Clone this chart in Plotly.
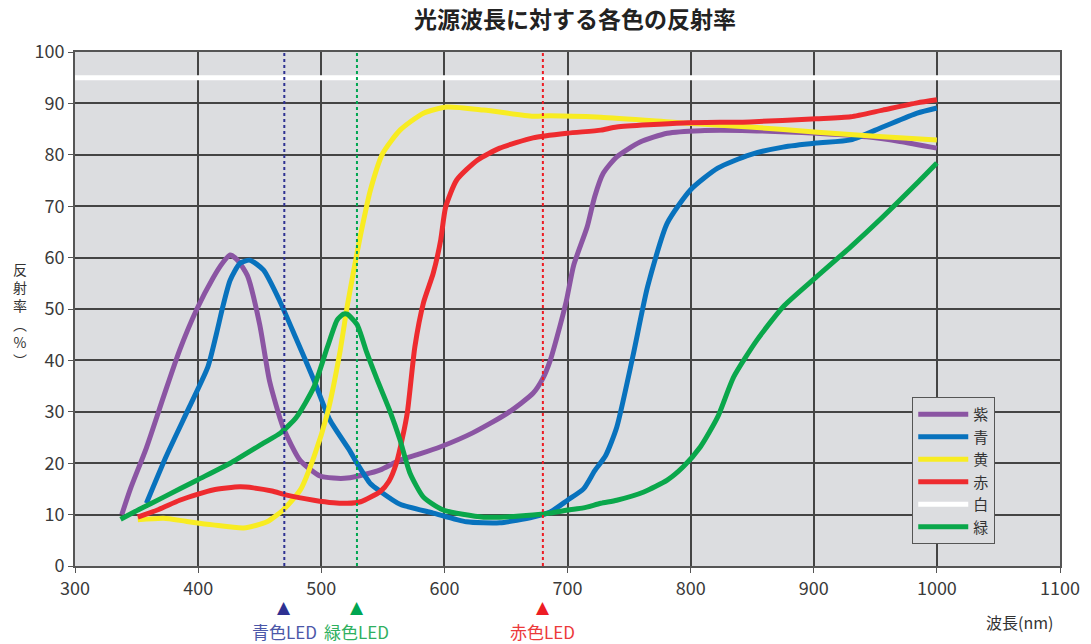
import plotly.graph_objects as go

# ---- data ----
purple_nm = [338, 345, 358, 372, 385, 399, 412, 420, 426, 432, 440, 450, 458, 469, 483, 499, 510, 521, 535, 548, 564, 580, 597, 623, 651, 672, 680, 686, 692, 699, 705, 716, 722, 729, 740, 759, 781, 808, 848, 902, 943, 970, 1000]
purple_val = [10, 15, 23, 33, 42, 50, 56, 59, 60.5, 59.5, 56.5, 47, 36, 27, 20.5, 17.5, 17.1, 17.1, 17.8, 18.7, 20.6, 21.8, 23.2, 25.9, 29.7, 33.6, 36.5, 40, 45, 51.5, 58.5, 66, 71.8, 76.4, 79.6, 82.5, 84.2, 84.7, 84.7, 84.2, 83.5, 82.6, 81.3]

blue_nm = [358, 374, 393, 408, 415, 420, 426, 434, 442, 453, 466, 480, 494, 507, 523, 529, 540, 548, 564, 591, 618, 645, 672, 686, 700, 713, 722, 731, 740, 753, 765, 781, 800, 822, 848, 875, 902, 930, 956, 984, 1000]
blue_val = [12.2, 21.3, 31, 38.8, 45.3, 50.4, 55.6, 58.9, 59.5, 57.6, 51.7, 44, 36.2, 28.4, 22.5, 20, 16, 14.5, 12, 10.3, 8.6, 8.4, 9.5, 10.5, 12.8, 15, 18.5, 21.5, 27, 40.7, 54.3, 66.7, 73.2, 77.4, 80, 81.5, 82.3, 82.9, 85.4, 88.1, 89.1]

yellow_nm = [351, 372, 390, 412, 437, 456, 469, 483, 494, 505, 515, 521, 526, 532, 540, 550, 564, 583, 602, 632, 672, 686, 727, 794, 848, 903, 956, 1000]
yellow_val = [9, 9.3, 8.7, 8, 7.4, 8.6, 10.9, 14.8, 21.2, 29.7, 41.4, 50.4, 57, 64.5, 73.2, 80.3, 84.8, 88.1, 89.3, 88.7, 87.5, 87.6, 87.3, 86.2, 85.4, 84.4, 83.5, 82.9]

red_nm = [351, 368, 385, 400, 412, 434, 445, 460, 472, 494, 510, 521, 532, 548, 555, 561, 566, 570, 576, 583, 591, 597, 601, 610, 627, 645, 672, 700, 727, 740, 794, 848, 902, 930, 956, 984, 1000]
red_val = [9.5, 11, 12.8, 14, 14.8, 15.4, 15.2, 14.6, 13.8, 12.8, 12.3, 12.2, 12.5, 14.5, 16.5, 20, 25, 30, 42.6, 51.2, 57, 63.4, 69.8, 75.1, 79, 81.3, 83.3, 84.2, 84.8, 85.4, 86.2, 86.4, 87, 87.4, 88.7, 90.1, 90.7]

white_nm = [300, 1100]
white_val = [95, 95]

green_nm = [337, 352, 372, 399, 426, 453, 467, 480, 494, 505, 513, 518, 521, 529, 537, 545, 556, 564, 572, 583, 599, 632, 672, 686, 700, 713, 727, 740, 762, 781, 794, 808, 822, 835, 854, 875, 902, 930, 956, 984, 1000]
green_val = [9.1, 11, 13.4, 16.7, 20, 23.9, 25.9, 29, 34.8, 42.6, 47.9, 49, 49, 47, 41.5, 36.5, 30, 24.5, 18.1, 13.4, 10.9, 9.5, 9.9, 10.3, 10.9, 11.3, 12.2, 12.8, 14.4, 16.7, 19.3, 23.2, 29, 36.8, 44, 50.4, 56.2, 62.1, 67.9, 74.5, 78.4]

led_nm = [470, 529, 680]
led_labels = ["青色LED", "緑色LED", "赤色LED"]
led_colors = ["#2e3192", "#00a651", "#ed1c24"]
led_text_colors = ["#4b57a8", "#2fb060", "#ec3a3a"]

x_ticks = [300, 400, 500, 600, 700, 800, 900, 1000, 1100]
y_ticks = [0, 10, 20, 30, 40, 50, 60, 70, 80, 90, 100]

y_title_chars = ["反", "射", "率", "︵", "%", "︶"]

series = [
    ("紫", purple_nm, purple_val, "#8b55a3"),
    ("青", blue_nm, blue_val, "#0872bd"),
    ("黄", yellow_nm, yellow_val, "#f8ec22"),
    ("赤", red_nm, red_val, "#ee2b2f"),
    ("白", white_nm, white_val, "#ffffff"),
    ("緑", green_nm, green_val, "#0aa74b"),
]

FONT = "Noto Sans CJK JP"
fig = go.Figure()

# LED dotted lines
for nm, c in zip(led_nm, led_colors):
    fig.add_shape(type="line", xref="x", yref="y", x0=nm, x1=nm, y0=0, y1=100,
                  line=dict(color=c, width=2, dash="dot"), layer="above")

for name, xs, ys, col in series:
    fig.add_trace(go.Scatter(x=xs, y=ys, name=name, mode="lines",
                             line=dict(color=col, width=5, shape="spline", smoothing=0.6)))

# LED triangles and labels
for nm, lab, c, tc in zip(led_nm, led_labels, led_colors, led_text_colors):
    fig.add_annotation(x=nm, xref="x", y=-0.08, yref="paper", text="▲", showarrow=False,
                       font=dict(family="DejaVu Sans", size=17, color=c), xanchor="center", yanchor="middle")
    fig.add_annotation(x=nm, xref="x", y=-0.1265, yref="paper", text=lab, showarrow=False,
                       font=dict(family=FONT, size=17, color=tc), xanchor="center", yanchor="middle")

# axis titles
fig.add_annotation(x=0.959, xref="paper", y=-0.109, yref="paper", text="波長(nm)", showarrow=False,
                   font=dict(family=FONT, size=16, color="#333"), xanchor="center", yanchor="middle")
fig.add_annotation(x=-0.0558, xref="paper", y=(566 - 314) / 514, yref="paper",
                   text="<br>".join(y_title_chars), showarrow=False,
                   font=dict(family=FONT, size=14, color="#333"), xanchor="center", yanchor="middle")

fig.update_layout(
    template="none",
    width=1091, height=644,
    margin=dict(l=75, r=31, t=52, b=78),
    paper_bgcolor="white",
    plot_bgcolor="#dcdde0",
    title=dict(text="<b>光源波長に対する各色の反射率</b>", x=0.527, xref="container", y=0.969,
               yref="container", yanchor="middle", xanchor="center",
               font=dict(family=FONT, size=23, color="#222")),
    font=dict(family=FONT, color="#3a3a3a"),
    legend=dict(x=0.85, y=0.329, xanchor="left", yanchor="top", bgcolor="#dcdde0",
                bordercolor="#555", borderwidth=1, font=dict(family=FONT, size=15, color="#333"),
                itemwidth=50, tracegroupgap=0),
    showlegend=True,
    hovermode=False,
)
fig.update_xaxes(range=[300, 1100], tickvals=x_ticks, ticktext=[str(v) for v in x_ticks],
                 showgrid=True, gridcolor="#444", gridwidth=1.5, zeroline=False, automargin=False,
                 showline=True, linecolor="#555", linewidth=2, mirror=True,
                 ticks="outside", ticklen=5, tickcolor="#555",
                 tickfont=dict(family=FONT, size=18, color="#3a3a3a"))
fig.update_yaxes(range=[0, 100], tickvals=y_ticks, ticktext=[str(v) for v in y_ticks],
                 showgrid=True, gridcolor="#444", gridwidth=1.5, zeroline=False, automargin=False,
                 showline=True, linecolor="#555", linewidth=2, mirror=True,
                 ticks="outside", ticklen=5, tickcolor="#555",
                 tickfont=dict(family=FONT, size=18, color="#3a3a3a"))

fig.write_html("out.html", config={"displayModeBar": False},
               post_script="document.body.style.margin='0px';document.body.style.overflow='hidden';")
